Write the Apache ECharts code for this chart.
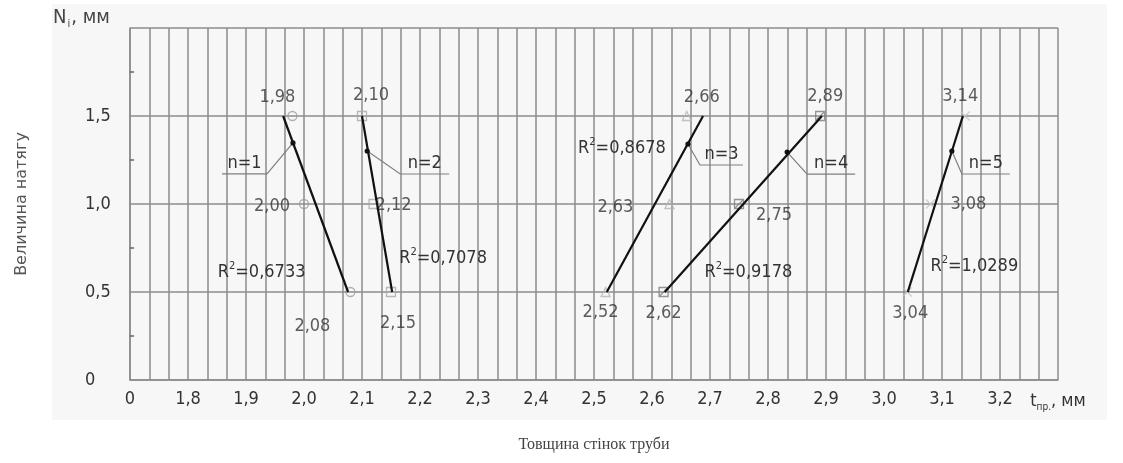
<!DOCTYPE html>
<html>
<head>
<meta charset="utf-8">
<script src="https://cdn.jsdelivr.net/npm/echarts@6/dist/echarts.min.js"></script>
<style>
  html, body { margin: 0; padding: 0; background: #ffffff; }
  #chart { width: 1123px; height: 463px; }
</style>
</head>
<body>
<div id="chart"></div>
<script>
// Interference fit (tension) vs. pipe wall thickness, five passes n = 1..5
const groupNames = ['n=1', 'n=2', 'n=3', 'n=4', 'n=5'];
const tensionLevels = [1.5, 1.0, 0.5];                 // N_i, mm
const thickness = [                                     // t_пр, mm, one row per pass
  [1.98, 2.00, 2.08],
  [2.10, 2.12, 2.15],
  [2.66, 2.63, 2.52],
  [2.89, 2.75, 2.62],
  [3.14, 3.08, 3.04]
];
// trend line ends [x, N] for each pass
const trendStart = [[1.964, 1.5], [2.100, 1.5], [2.522, 0.5], [2.622, 0.5], [3.041, 0.5]];
const trendEnd   = [[2.076, 0.5], [2.152, 0.5], [2.688, 1.5], [2.893, 1.5], [3.136, 1.5]];
// point on each trend line where the pass label is attached
const trendMarks = [[1.981, 1.347], [2.109, 1.301], [2.662, 1.341], [2.833, 1.295], [3.117, 1.301]];
const rSquared = [0.6733, 0.7078, 0.8678, 0.9178, 1.0289];
const xTickMin = 1.7, xTickMax = 3.3;                   // 1.7 is shown as the broken-axis "0"
const yTicks = { min: 0, max: 2, step: 0.5 };

const FONT = "'DejaVu Sans Condensed', 'Liberation Sans Narrow', sans-serif";
const FS = 18;
const INK = '#333333';
const GRID = '#8c8c8c';

const comma = (v, d) => v.toFixed(d).replace('.', ',');

// layout of annotations, in pixels relative to their anchors
const leaderBends = [
  [[-26, 31], [-71, 31]],
  [[33, 23], [82, 23]],
  [[12, 21], [55, 21]],
  [[20, 22], [68, 22]],
  [[10, 23], [58, 23]]
];
const r2Shift = [[-54, 68], [66, 54], [-33, -56], [5, 68], [39, 62]];
const pointLabelShift = [
  [[-15, -19], [-32, 2], [-38, 34]],
  [[9, -21], [20, 1], [7, 31]],
  [[15, -19], [-54, 3], [-5, 20]],
  [[5, -20], [35, 11], [0, 21]],
  [[-5, -20], [38, 0], [3, 21]]
];
const markerShapes = [
  'circle',
  'rect',
  'triangle',
  'path://M0,0H10V10H0ZM0,10L10,0',
  'path://M0,0L10,10M10,0L0,10'
];
const markerColors = ['#9c9c9c', '#a8a8a8', '#b4b4b4', '#7a7a7a', '#c4c4c4'];

const pointSeries = thickness.map((row, g) => ({
  name: groupNames[g] + ' points',
  type: 'scatter',
  z: 3,
  symbol: markerShapes[g],
  symbolSize: 9,
  itemStyle: { color: 'transparent', borderColor: markerColors[g], borderWidth: 1.3 },
  label: {
    show: true,
    position: 'inside',
    fontFamily: FONT,
    fontSize: FS,
    color: INK,
    textBorderWidth: 0,
    textBorderColor: 'transparent',
    formatter: p => comma(p.value[0], 2)
  },
  data: row.map((x, k) => ({
    value: [x, tensionLevels[k]],
    label: { offset: pointLabelShift[g][k] }
  }))
}));

const trendData = groupNames.map((n, g) => [
  trendStart[g][0], trendStart[g][1], trendEnd[g][0], trendEnd[g][1],
  trendMarks[g][0], trendMarks[g][1], rSquared[g]
]);

const trendSeries = {
  name: 'trend',
  type: 'custom',
  z: 4,
  silent: true,
  data: trendData,
  renderItem: (params, api) => {
    const g = params.dataIndex;
    const a = api.coord([api.value(0), api.value(1)]);
    const b = api.coord([api.value(2), api.value(3)]);
    const d = api.coord([api.value(4), api.value(5)]);
    const knee = [d[0] + leaderBends[g][0][0], d[1] + leaderBends[g][0][1]];
    const end = [d[0] + leaderBends[g][1][0], d[1] + leaderBends[g][1][1]];
    const mid = [(a[0] + b[0]) / 2 + r2Shift[g][0], (a[1] + b[1]) / 2 + r2Shift[g][1]];
    return {
      type: 'group',
      children: [
        { type: 'polyline', shape: { points: [d, knee, end] },
          style: { stroke: '#808080', lineWidth: 1.2, fill: null } },
        { type: 'line', shape: { x1: a[0], y1: a[1], x2: b[0], y2: b[1] },
          style: { stroke: '#111', lineWidth: 2.2 } },
        { type: 'circle', shape: { cx: d[0], cy: d[1], r: 2.6 }, style: { fill: '#111' } },
        { type: 'text', x: (knee[0] + end[0]) / 2, y: knee[1] - 2,
          style: { text: groupNames[g], fontFamily: FONT, fontSize: FS, fill: INK,
                   align: 'center', verticalAlign: 'bottom' } },
        { type: 'text', x: mid[0], y: mid[1],
          style: {
            text: '{r|R}{s|2}{r|=' + comma(api.value(6), 4) + '}',
            align: 'center', verticalAlign: 'middle',
            rich: {
              r: { fontFamily: FONT, fontSize: FS, fill: INK, lineHeight: 22 },
              s: { fontFamily: FONT, fontSize: 11, fill: INK, verticalAlign: 'top' }
            }
          } }
      ]
    };
  }
};

const chart = echarts.init(document.getElementById('chart'), null, { renderer: 'canvas' });
chart.setOption({
  backgroundColor: '#ffffff',
  animation: false,
  grid: { left: 130, right: 65, top: 28, bottom: 83 },
  graphic: [
    { type: 'rect', z: -10, silent: true,
      shape: { x: 52, y: 4, width: 1055, height: 416 },
      style: { fill: '#f7f7f7' } },
    { type: 'text', left: 53, top: 8, silent: true,
      style: {
        text: '{n|N}{i|і}{n|, мм}',
        rich: {
          n: { fontFamily: FONT, fontSize: 20, fill: '#444', lineHeight: 24 },
          i: { fontFamily: FONT, fontSize: 11, fill: '#444', verticalAlign: 'bottom', padding: [0, 1, 0, 1] }
        }
      } }
  ],
  xAxis: {
    type: 'value',
    min: xTickMin,
    max: xTickMax,
    interval: 0.1,
    name: 'Товщина стінок труби',
    nameLocation: 'middle',
    nameGap: 57,
    nameTextStyle: { fontFamily: "'Liberation Serif', 'DejaVu Serif', serif", fontSize: 16, color: '#444' },
    axisLine: { show: true, lineStyle: { color: GRID, width: 1.5 } },
    axisTick: { show: false },
    minorTick: { show: false, splitNumber: 3 },
    splitLine: { show: true, lineStyle: { color: GRID, width: 1.5 } },
    minorSplitLine: { show: true, lineStyle: { color: GRID, width: 1.5 } },
    axisLabel: {
      margin: 10,
      fontFamily: FONT,
      fontSize: FS,
      color: INK,
      showMinLabel: true,
      showMaxLabel: true,
      formatter: v => {
        if (Math.abs(v - xTickMin) < 1e-6) return '0';
        if (Math.abs(v - xTickMax) < 1e-6) return '{p|t}{s|пр.}{p|, мм}';
        return comma(v, 1);
      },
      rich: {
        p: { fontFamily: FONT, fontSize: FS, color: INK, lineHeight: 22 },
        s: { fontFamily: FONT, fontSize: 10, color: INK, verticalAlign: 'bottom' }
      }
    }
  },
  yAxis: {
    type: 'value',
    min: yTicks.min,
    max: yTicks.max,
    interval: yTicks.step,
    name: 'Величина натягу',
    nameLocation: 'middle',
    nameGap: 100,
    nameTextStyle: { fontFamily: "'DejaVu Sans', sans-serif", fontSize: 16, color: '#555' },
    axisLine: { show: true, lineStyle: { color: GRID, width: 1.5 } },
    axisTick: { show: true, inside: true, length: 0 },
    minorTick: { show: true, splitNumber: 2, length: 4, lineStyle: { color: '#666', width: 1.5 } },
    splitLine: { show: true, lineStyle: { color: GRID, width: 1.5 } },
    axisLabel: {
      align: 'left',
      margin: 45,
      fontFamily: FONT,
      fontSize: FS,
      color: INK,
      formatter: v => (v >= yTicks.max - 1e-6 ? '' : (v === 0 ? '0' : comma(v, 1)))
    }
  },
  series: [...pointSeries, trendSeries]
});
</script>
</body>
</html>
